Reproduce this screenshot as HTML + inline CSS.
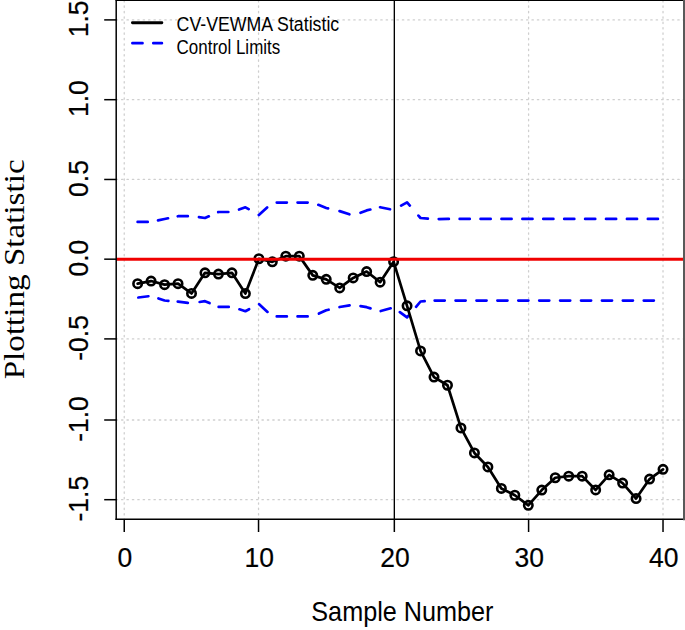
<!DOCTYPE html>
<html>
<head>
<meta charset="utf-8">
<title>CV-VEWMA control chart</title>
<style>
html,body{margin:0;padding:0;background:#fff;}
body{width:685px;height:630px;overflow:hidden;font-family:"Liberation Sans",sans-serif;}
svg{display:block;}
text{font-family:"Liberation Sans",sans-serif;fill:#000;}
.serif{font-family:"Liberation Serif",serif;}
</style>
</head>
<body>
<svg width="685" height="630" viewBox="0 0 685 630">
<rect x="0" y="0" width="685" height="630" fill="#ffffff"/>
<!-- grid -->
<g stroke="#cfcfcf" stroke-width="1.3" stroke-dasharray="1.35 4.05" stroke-linecap="round" fill="none">
<line x1="124.24" y1="0.6" x2="124.24" y2="519.25"/>
<line x1="258.54" y1="0.6" x2="258.54" y2="519.25"/>
<line x1="528.59" y1="0.6" x2="528.59" y2="519.25"/>
<line x1="663.02" y1="0.6" x2="663.02" y2="519.25"/>
<line x1="116.2" y1="19.90" x2="684.1" y2="19.90"/>
<line x1="116.2" y1="99.69" x2="684.1" y2="99.69"/>
<line x1="116.2" y1="179.47" x2="684.1" y2="179.47"/>
<line x1="116.2" y1="338.90" x2="684.1" y2="338.90"/>
<line x1="116.2" y1="420.00" x2="684.1" y2="420.00"/>
<line x1="116.2" y1="499.69" x2="684.1" y2="499.69"/>
</g>
<!-- vertical marker -->
<line x1="394.33" y1="0.6" x2="394.33" y2="519.25" stroke="#000" stroke-width="1.35"/>
<!-- control limits -->
<g stroke="#0000ff" stroke-width="2.7" stroke-linecap="round" stroke-linejoin="round" fill="none">
<path d="M137.62,221.90L147.72,221.90 M158.05,220.40L164.57,219.00L168.03,218.28 M177.75,216.26L178.04,216.20L187.85,216.20 M198.95,217.19L204.98,218.00L208.82,216.29 M218.25,212.09L218.45,212.00L228.34,212.00 M239.05,209.51L245.40,207.30L248.66,209.17 M258.75,214.93L258.87,215.00L267.11,207.42 M276.75,202.60L285.81,202.60L286.85,202.60 M297.55,202.60L299.29,202.60L307.65,202.60 M318.35,204.84L326.23,208.00L328.08,208.43 M339.55,211.07L339.70,211.10L349.36,214.32 M360.55,212.75L366.65,210.40L370.35,209.52 M380.05,207.22L380.12,207.20L390.03,209.26 M401.15,205.68L407.06,202.30L409.85,205.55 M418.45,215.57L420.53,218.00L427.87,218.60 M438.75,219.03L447.48,218.90L448.85,218.90 M459.66,218.90L460.95,218.90L469.76,218.90 M480.57,218.90L487.89,218.90L490.67,218.90 M501.48,218.90L511.58,218.90 M522.39,218.90L528.31,218.90L532.49,218.90 M543.30,218.90L553.40,218.90 M564.21,218.90L568.73,218.90L574.31,218.90 M585.12,218.90L595.22,218.90 M606.03,218.90L609.14,218.90L616.13,218.90 M626.94,218.90L636.09,218.90L637.04,218.90 M647.85,218.90L649.56,218.90L657.95,218.90"/>
<path d="M138.35,297.51L148.41,296.24 M158.45,298.41L164.57,300.50L168.35,300.84 M177.75,301.67L178.04,301.70L187.82,302.79 M199.65,301.99L204.98,301.20L209.50,303.11 M218.65,306.90L228.75,306.90 M239.45,309.30L245.40,311.20L249.11,309.22 M259.15,304.26L267.49,311.94 M276.75,316.40L285.81,316.40L286.85,316.40 M297.55,316.40L299.29,316.40L307.65,316.40 M318.95,313.60L326.23,310.30L328.61,309.72 M339.55,307.04L339.70,307.00L349.58,305.39 M360.55,306.11L366.65,307.20L370.50,308.35 M380.75,311.03L390.65,308.31 M399.85,312.10L407.06,317.40L408.48,315.72 M416.05,306.79L420.53,301.50L424.67,301.22 M434.65,300.60L444.75,300.60 M455.56,300.60L460.95,300.60L465.66,300.60 M476.47,300.60L486.57,300.60 M497.38,300.60L501.37,300.60L507.48,300.60 M518.29,300.60L528.31,300.60L528.39,300.60 M539.20,300.60L541.78,300.60L549.30,300.60 M560.11,300.60L568.73,300.60L570.21,300.60 M581.02,300.60L582.20,300.60L591.12,300.60 M601.93,300.60L609.14,300.60L612.03,300.60 M622.84,300.60L632.94,300.60 M643.75,300.60L649.56,300.60L653.85,300.60"/>
<path d="M132.4,43.2h10.1M153.3,43.2h8.6"/>
</g>
<!-- statistic -->
<g stroke="#000" stroke-width="2.7" stroke-linecap="round" stroke-linejoin="round" fill="none">
<polyline points="137.62,283.65 151.09,281.05 164.57,284.65 178.04,283.65 191.51,293.45 204.98,272.85 218.45,274.05 231.93,272.85 245.40,293.55 258.87,258.75 272.34,261.85 285.81,256.15 299.29,256.15 312.76,275.35 326.23,279.35 339.70,287.95 353.17,277.95 366.65,271.55 380.12,282.15 393.59,261.65 407.06,305.85 420.53,350.95 434.01,377.05 447.48,385.25 460.95,427.95 474.42,452.95 487.89,466.95 501.37,488.45 514.84,495.25 528.31,505.35 541.78,490.05 555.25,477.75 568.73,476.15 582.20,476.15 595.67,489.95 609.14,474.85 622.61,483.05 636.09,498.55 649.56,479.05 663.03,469.35"/>
<line x1="132.4" y1="22.75" x2="161.9" y2="22.75" stroke-width="2.8"/>
</g>
<g stroke="#000" stroke-width="2.6" fill="none">
<circle cx="137.62" cy="283.65" r="4.2"/>
<circle cx="151.09" cy="281.05" r="4.2"/>
<circle cx="164.57" cy="284.65" r="4.2"/>
<circle cx="178.04" cy="283.65" r="4.2"/>
<circle cx="191.51" cy="293.45" r="4.2"/>
<circle cx="204.98" cy="272.85" r="4.2"/>
<circle cx="218.45" cy="274.05" r="4.2"/>
<circle cx="231.93" cy="272.85" r="4.2"/>
<circle cx="245.40" cy="293.55" r="4.2"/>
<circle cx="258.87" cy="258.75" r="4.2"/>
<circle cx="272.34" cy="261.85" r="4.2"/>
<circle cx="285.81" cy="256.15" r="4.2"/>
<circle cx="299.29" cy="256.15" r="4.2"/>
<circle cx="312.76" cy="275.35" r="4.2"/>
<circle cx="326.23" cy="279.35" r="4.2"/>
<circle cx="339.70" cy="287.95" r="4.2"/>
<circle cx="353.17" cy="277.95" r="4.2"/>
<circle cx="366.65" cy="271.55" r="4.2"/>
<circle cx="380.12" cy="282.15" r="4.2"/>
<circle cx="393.59" cy="261.65" r="4.2"/>
<circle cx="407.06" cy="305.85" r="4.2"/>
<circle cx="420.53" cy="350.95" r="4.2"/>
<circle cx="434.01" cy="377.05" r="4.2"/>
<circle cx="447.48" cy="385.25" r="4.2"/>
<circle cx="460.95" cy="427.95" r="4.2"/>
<circle cx="474.42" cy="452.95" r="4.2"/>
<circle cx="487.89" cy="466.95" r="4.2"/>
<circle cx="501.37" cy="488.45" r="4.2"/>
<circle cx="514.84" cy="495.25" r="4.2"/>
<circle cx="528.31" cy="505.35" r="4.2"/>
<circle cx="541.78" cy="490.05" r="4.2"/>
<circle cx="555.25" cy="477.75" r="4.2"/>
<circle cx="568.73" cy="476.15" r="4.2"/>
<circle cx="582.20" cy="476.15" r="4.2"/>
<circle cx="595.67" cy="489.95" r="4.2"/>
<circle cx="609.14" cy="474.85" r="4.2"/>
<circle cx="622.61" cy="483.05" r="4.2"/>
<circle cx="636.09" cy="498.55" r="4.2"/>
<circle cx="649.56" cy="479.05" r="4.2"/>
<circle cx="663.03" cy="469.35" r="4.2"/>
</g>
<!-- centre line -->
<line x1="116.2" y1="259.2" x2="684.1" y2="259.2" stroke="#f00000" stroke-width="2.85"/>
<!-- box -->
<g fill="none" stroke="#000" stroke-width="1.5" stroke-linecap="square">
<line x1="116.2" y1="0" x2="116.2" y2="519.25"/>
<line x1="116.2" y1="519.25" x2="684" y2="519.25"/>
<line x1="116.2" y1="0.5" x2="685" y2="0.5" stroke-width="1.2"/>
<line x1="684" y1="0" x2="684" y2="519.25" stroke="#595959" stroke-width="2"/>
</g>
<g stroke="#000" stroke-width="1.5" fill="none">
<line x1="124.24" y1="519.25" x2="124.24" y2="532.0"/>
<line x1="258.54" y1="519.25" x2="258.54" y2="532.0"/>
<line x1="394.33" y1="519.25" x2="394.33" y2="532.0"/>
<line x1="528.59" y1="519.25" x2="528.59" y2="532.0"/>
<line x1="663.02" y1="519.25" x2="663.02" y2="532.0"/>
<line x1="104.2" y1="19.90" x2="116.2" y2="19.90"/>
<line x1="104.2" y1="99.69" x2="116.2" y2="99.69"/>
<line x1="104.2" y1="179.47" x2="116.2" y2="179.47"/>
<line x1="104.2" y1="259.17" x2="116.2" y2="259.17"/>
<line x1="104.2" y1="338.90" x2="116.2" y2="338.90"/>
<line x1="104.2" y1="420.00" x2="116.2" y2="420.00"/>
<line x1="104.2" y1="499.69" x2="116.2" y2="499.69"/>
</g>
<!-- tick labels -->
<g font-size="27.9" stroke="#000" stroke-width="0.2">
<text transform="translate(124.94,567.4) scale(0.95,1)" text-anchor="middle">0</text>
<text transform="translate(259.24,567.4) scale(0.95,1)" text-anchor="middle">10</text>
<text transform="translate(395.03,567.4) scale(0.95,1)" text-anchor="middle">20</text>
<text transform="translate(529.29,567.4) scale(0.95,1)" text-anchor="middle">30</text>
<text transform="translate(663.72,567.4) scale(0.95,1)" text-anchor="middle">40</text>
<text transform="translate(88.4,18.90) rotate(-90) scale(0.95,1)" text-anchor="middle">1.5</text>
<text transform="translate(88.4,98.69) rotate(-90) scale(0.95,1)" text-anchor="middle">1.0</text>
<text transform="translate(88.4,178.47) rotate(-90) scale(0.95,1)" text-anchor="middle">0.5</text>
<text transform="translate(88.4,258.17) rotate(-90) scale(0.95,1)" text-anchor="middle">0.0</text>
<text transform="translate(88.4,337.90) rotate(-90) scale(0.95,1)" text-anchor="middle">-0.5</text>
<text transform="translate(88.4,419.00) rotate(-90) scale(0.95,1)" text-anchor="middle">-1.0</text>
<text transform="translate(88.4,498.69) rotate(-90) scale(0.95,1)" text-anchor="middle">-1.5</text>
</g>
<!-- legend -->
<g font-size="19.5">
<text x="176.6" y="30.8" textLength="162.6" lengthAdjust="spacingAndGlyphs">CV-VEWMA Statistic</text>
<text x="176.6" y="53.7" textLength="103.6" lengthAdjust="spacingAndGlyphs">Control Limits</text>
</g>
<!-- axis titles -->
<text x="311.3" y="621.2" font-size="28" textLength="182.2" lengthAdjust="spacingAndGlyphs">Sample Number</text>
<text class="serif" transform="translate(23.8,379.3) rotate(-90)" font-size="29.5" textLength="219.9" lengthAdjust="spacingAndGlyphs">Plotting Statistic</text>
</svg>
</body>
</html>
